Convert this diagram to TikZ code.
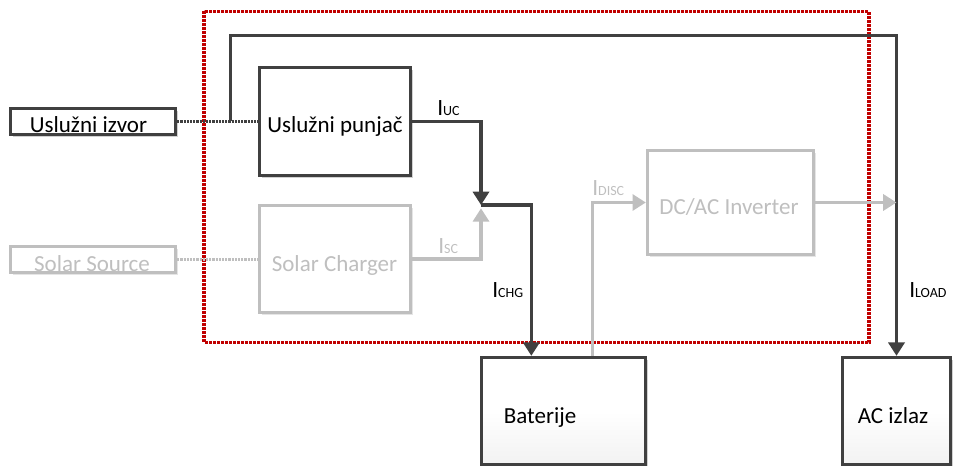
\documentclass[tikz,border=0pt]{standalone}
\usepackage{fontspec}
\setmainfont{Carlito}
\usetikzlibrary{arrows.meta, calc, shadows}
\definecolor{cTamna}{HTML}{404040}
\definecolor{cSiva}{HTML}{BFBFBF}
\definecolor{cCrvena}{HTML}{C00000}
\tikzset{
    x=0.75pt, y=-0.75pt,
    kutija/.style={line width=2.5pt, fill=white, inner sep=0pt},
    blk/.style={kutija, draw=cTamna,
                drop shadow={shadow xshift=1.6pt, shadow yshift=-1.6pt,
                             fill=black, opacity=0.18}},
    dim/.style={kutija, draw=cSiva,
                drop shadow={shadow xshift=1.6pt, shadow yshift=-1.6pt,
                             fill=black, opacity=0.10}},
    txt/.style={font=\fontsize{17.25}{20}\selectfont, anchor=base, inner sep=0pt},
    dimtxt/.style={txt, text=cSiva},
    lbl/.style={anchor=base west, inner sep=0pt},
    wire/.style={cTamna, line width=2.5pt},
    dimwire/.style={cSiva, line width=2.5pt},
    tip/.style={-{Triangle[length=10pt, width=12pt]}},
    feed/.style={line width=2.25pt, dash pattern=on 1.6pt off 0.8pt},
    fence/.style={cCrvena, line width=2.4pt, dash pattern=on 2.2pt off 0.8pt},
}
\newcommand{\struja}[1]{{\fontsize{17.5}{20}\selectfont I}{\fontsize{10.5}{12}\selectfont #1}}

\begin{document}
\begin{tikzpicture}
    \useasboundingbox (0,0) rectangle (953,466);
    \clip (0,0) rectangle (953,466);

    \draw[fence] (204,11.5) rectangle (869,342.5);

    % kutije
    \node[blk, minimum width=123.75pt, minimum height=19.5pt] (izvor) at (93,121.5) {};
    \node[dim, minimum width=123.75pt, minimum height=19.5pt] (solar) at (93,259.5) {};
    \node[blk, minimum width=113.25pt, minimum height=81pt] (punjac) at (335,121.5) {};
    \node[dim, minimum width=113.25pt, minimum height=80.25pt] (scharger) at (335,259) {};
    \node[dim, minimum width=124.5pt, minimum height=78pt] (inv) at (730.5,202.5) {};
    \node[blk, top color=white, bottom color=black!5, middle color=white,
          minimum width=123pt, minimum height=80.25pt] (bat) at (563.5,411) {};
    \node[blk, top color=white, bottom color=black!5, middle color=white,
          minimum width=81pt, minimum height=80.25pt] (acizlaz) at (896.5,411) {};

    % veze
    \coordinate (tap) at (230.5,121.5);
    \coordinate (jn) at (481,205);
    \draw[wire, feed] (izvor.east) -- (punjac.west);
    \draw[dimwire, feed] (solar.east) -- (solar.east -| scharger.west);
    \draw[wire, tip] (tap) |- ($(acizlaz.north)+(0,-320)$) -- (acizlaz.north);
    \draw[wire, tip] (punjac.east) -| (jn);
    \draw[dimwire, tip, shorten >=2.5pt] (scharger.east) -| (jn);
    \draw[wire, tip] (jn) -| ($(bat.north west)+(51.5,0)$);
    \draw[dimwire, tip] ($(bat.north west)+(112.8,0)$) |- (inv.west);
    \draw[dimwire, tip] (inv.east) -- (inv.east -| acizlaz.north);

    % tekstovi
    \node[txt] (izvorT) at (88.5,133) {Uslužni izvor};
    \node[dimtxt] (solarT) at (92,272) {Solar Source};
    \node[txt] (punjacT) at (335,133) {Uslužni punjač};
    \node[dimtxt] (schargerT) at (334.5,272) {Solar Charger};
    \node[dimtxt] (invT) at (729,215) {DC/AC Inverter};
    \node[txt] (batT) at (540,424) {Baterije};
    \node[txt] (acizlazT) at (893,424) {AC izlaz};

    \node[lbl] (iuc) at (437,116) {\struja{UC}};
    \node[lbl, text=cSiva] (isc) at (438,254) {\struja{SC}};
    \node[lbl] (ichg) at (492,298) {\struja{CHG}};
    \node[lbl, text=cSiva] (idisc) at (592,196) {\struja{DISC}};
    \node[lbl] (iload) at (909,298) {\struja{LOAD}};
\end{tikzpicture}
\end{document}
